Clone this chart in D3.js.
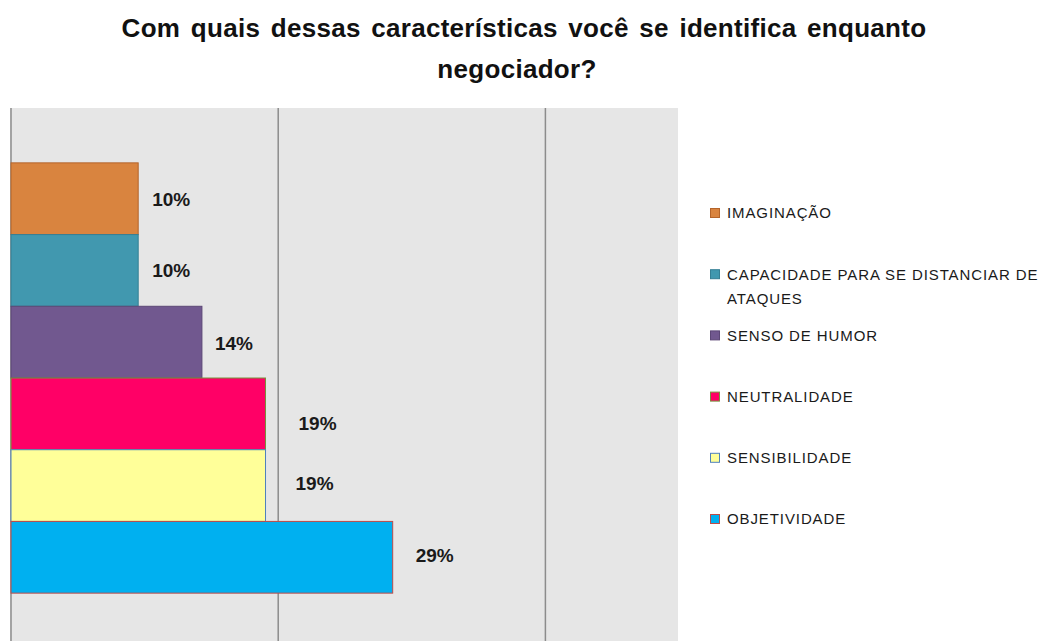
<!DOCTYPE html>
<html lang="pt">
<head>
<meta charset="UTF-8">
<title>Com quais dessas características você se identifica enquanto negociador?</title>
<script src="https://d3js.org/d3.v7.min.js"></script>
<style>
    body { margin: 0; background: #fff; }
    svg { display: block; font-family: "Liberation Sans", Arial, sans-serif; }
</style>
</head>
<body>
<svg id="chart" width="1046" height="641"></svg>
<script>
// dados (ordem de cima para baixo)
const categorias = ["IMAGINAÇÃO", "CAPACIDADE PARA SE DISTANCIAR DE ATAQUES", "SENSO DE HUMOR",
                    "NEUTRALIDADE", "SENSIBILIDADE", "OBJETIVIDADE"];
const valores = [9.52, 9.52, 14.29, 19.05, 19.05, 28.57]; // %
const rotulos = ["10%", "10%", "14%", "19%", "19%", "29%"];
const legendaLinhas = [["IMAGINAÇÃO"], ["CAPACIDADE PARA SE DISTANCIAR DE", "ATAQUES"], ["SENSO DE HUMOR"],
                       ["NEUTRALIDADE"], ["SENSIBILIDADE"], ["OBJETIVIDADE"]];
const gradeTicks = [0, 20, 40];

const cores = ["#d9843f", "#4198af", "#71588f", "#ff0066", "#ffff99", "#00b0f0"];
const contornos = ["#b4642a", "#357f94", "#5c4776", "#77933c", "#4f81bd", "#be4b48"];
// ajuste manual dos rótulos (como no Excel)
const ajusteRotulo = [[15, 0], [15, 0], [14, 1], [34, 9], [31, -2], [24, -2]];

const svg = d3.select("#chart");

// título
const titulo = svg.append("g")
    .attr("font-weight", "bold").attr("font-size", 26)
    .attr("letter-spacing", 0.3).attr("word-spacing", 3)
    .attr("text-anchor", "middle").attr("fill", "#111");
titulo.append("text").attr("x", 524).attr("y", 37)
    .text("Com quais dessas características você se identifica enquanto");
titulo.append("text").attr("x", 517).attr("y", 78)
    .text("negociador?");

// área do gráfico
const plot = { left: 10, right: 678, top: 108, bottom: 648 };

const x = d3.scaleLinear().domain([0, 50]).range([plot.left, plot.right]);
const y = d3.scaleBand().domain(categorias)
    .range([plot.top, plot.bottom])
    .paddingInner(0).paddingOuter(0.765);

svg.append("rect")
    .attr("x", plot.left).attr("y", plot.top)
    .attr("width", plot.right - plot.left).attr("height", plot.bottom - plot.top)
    .attr("fill", "#e6e6e6");

svg.selectAll("line.grade")
    .data(gradeTicks)
    .enter().append("line")
    .attr("class", "grade")
    .attr("x1", d => x(d) + 1).attr("x2", d => x(d) + 1)
    .attr("y1", plot.top).attr("y2", plot.bottom)
    .attr("stroke", "#8c8c8c").attr("stroke-width", 1.5);

// barras
svg.selectAll("rect.barra")
    .data(categorias)
    .enter().append("rect")
    .attr("class", "barra")
    .attr("x", x(0) + 1)
    .attr("y", d => y(d))
    .attr("width", (d, i) => x(valores[i]) - x(0))
    .attr("height", y.bandwidth())
    .attr("fill", (d, i) => cores[i])
    .attr("stroke", (d, i) => contornos[i])
    .attr("stroke-width", 1);

// rótulos de dados
svg.selectAll("text.rotulo")
    .data(categorias)
    .enter().append("text")
    .attr("class", "rotulo")
    .attr("x", (d, i) => x(valores[i]) + ajusteRotulo[i][0])
    .attr("y", (d, i) => y(d) + y.bandwidth() / 2 + ajusteRotulo[i][1])
    .attr("dy", "0.36em")
    .attr("font-weight", "bold").attr("font-size", 19)
    .attr("fill", "#1a1a1a")
    .text((d, i) => rotulos[i]);

// legenda
const legenda = svg.append("g");
const itens = legenda.selectAll("g")
    .data(categorias)
    .enter().append("g")
    .attr("transform", (d, i) => `translate(710,${213 + i * 61.2})`);

itens.append("rect")
    .attr("x", 0.5).attr("y", -4.5)
    .attr("width", 9).attr("height", 9)
    .attr("fill", (d, i) => cores[i])
    .attr("stroke", (d, i) => contornos[i]);

itens.each(function(d, i) {
    const t = d3.select(this).append("text")
        .attr("x", 17).attr("font-size", 15).attr("letter-spacing", 0.9)
        .attr("fill", "#1a1a1a");
    legendaLinhas[i].forEach((linha, j) => {
        t.append("tspan").attr("x", 17).attr("y", j * 24).attr("dy", "0.36em").text(linha);
    });
});
</script>
</body>
</html>
